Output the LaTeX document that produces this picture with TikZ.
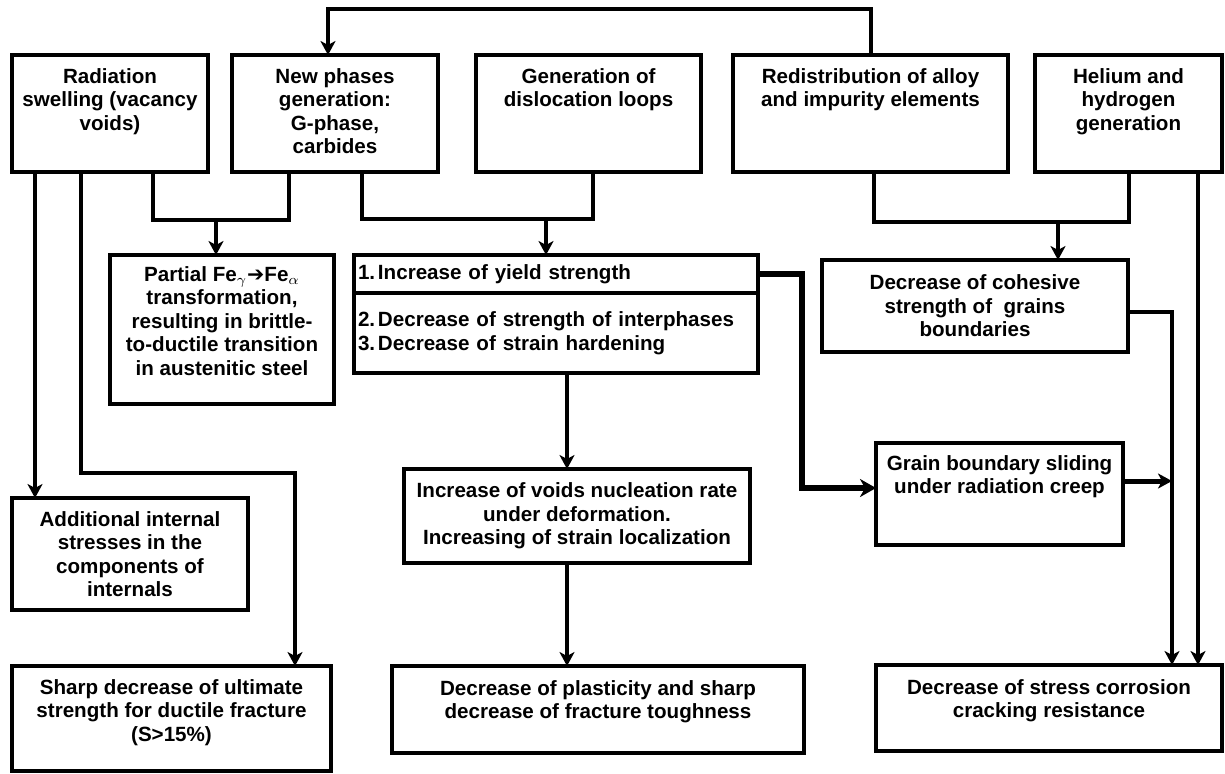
\documentclass[tikz,border=0pt]{standalone}
\usepackage{fontspec}
\setmainfont{Liberation Sans}
\newfontfamily\dejavu{DejaVu Sans}
\usetikzlibrary{arrows.meta,positioning}
\tikzset{
	box/.style={draw, line width=2.2pt, anchor=north west, inner sep=0pt, outer sep=0pt, align=center, font=\bfseries\fontsize{10.3}{11.75}\selectfont},
	txt/.style={inner sep=0pt, align=center, font=\bfseries\fontsize{10.3}{11.75}\selectfont},
	line/.style={line width=2pt},
	arr/.style={line width=2pt, -{Stealth[length=7pt,width=7.5pt,inset=2pt]}},
	list/.style={box, align=left, text width=198pt, inner xsep=2pt}
}

\begin{document}
\begin{tikzpicture}[x=0.5pt, y=-0.5pt]
	\useasboundingbox (0,0) rectangle (1225,773);
	\node[box, minimum width=98pt, minimum height=58.5pt] (rad) at (12,55) {};
	\node[box, minimum width=103pt, minimum height=58.5pt] (phase) at (232,55) {};
	\node[box, minimum width=112.5pt, minimum height=58.5pt] (disl) at (476,55) {};
	\node[box, minimum width=137.5pt, minimum height=58.5pt] (redis) at (733,55) {};
	\node[box, minimum width=93.5pt, minimum height=58.5pt] (hel) at (1035,55) {};
	\node[txt, below=6.5pt of rad.north] (rad-t) {Radiation\\swelling (vacancy\\voids)};
	\node[txt, below=6.5pt of phase.north] (phase-t) {New phases\\generation:\\G-phase,\\carbides};
	\node[txt, below=6.5pt of disl.north] (disl-t) {Generation of\\dislocation loops};
	\node[txt, below=6.5pt of redis.north] (redis-t) {Redistribution of alloy\\and impurity elements};
	\node[txt, below=6.5pt of hel.north] (hel-t) {Helium and\\hydrogen\\generation};

	\node[box, minimum width=112pt, minimum height=74.5pt] (fe) at (110,255) {};
	\node[txt, below=5.5pt of fe.north] (fe-t) {Partial Fe$_\gamma${\dejavu\bfseries ➔}Fe$_\alpha$\\transformation,\\resulting in brittle-\\to-ductile transition\\in austenitic steel};
	\node[list, minimum height=19pt] (yld) at (354,255) {\makebox[10pt][l]{1.}Increase of yield strength};
	\node[list, minimum height=40pt] (yld2) at (354,293) {\makebox[10pt][l]{2.}Decrease of strength of interphases\\\makebox[10pt][l]{3.}Decrease of strain hardening};
	\node[box, minimum width=153pt, minimum height=46pt] (coh) at (822,260) {Decrease of cohesive\\strength of~ grains\\boundaries};

	\node[box, minimum width=123.5pt, minimum height=51pt] (grain) at (876,443) {};
	\node[txt, below=6pt of grain.north] (grain-t) {Grain boundary sliding\\under radiation creep};
	\node[box, minimum width=173pt, minimum height=47pt] (voids) at (404,469) {Increase of voids nucleation rate\\under deformation.\\Increasing of strain localization};
	\node[box, minimum width=118pt, minimum height=56pt] (add) at (12,498) {Additional internal\\stresses in the\\components of\\internals};

	\node[box, minimum width=159.5pt, minimum height=52.5pt] (sharp) at (12,666) {};
	\node[txt, below=6.5pt of sharp.north] (sharp-t) {Sharp decrease of ultimate\\strength for ductile fracture\\(S>15\%)};
	\node[box, minimum width=206pt, minimum height=43.5pt] (plast) at (392,666) {};
	\node[txt, below=7pt of plast.north] (plast-t) {Decrease of plasticity and sharp\\decrease of fracture toughness};
	\node[box, minimum width=173pt, minimum height=43pt] (stress) at (876,665) {};
	\node[txt, below=7pt of stress.north] (stress-t) {Decrease of stress corrosion\\cracking resistance};

	\coordinate (m1) at (216,220);
	\coordinate (m2) at (546,219);
	\coordinate (m3) at (1058,222);
	\coordinate (c1) at (295,473);
	\coordinate (c2) at (802,488);
	\coordinate (c3) at (1172,312);

	\draw[arr] (redis.north) -- ++(0,-46) -| ([xshift=-3.5pt]phase.north);
	\draw[line] ([xshift=21.5pt]rad.south) |- (m1) -| ([xshift=-23pt]phase.south);
	\draw[arr] (m1) -- (m1 |- fe.north);
	\draw[line] ([xshift=13.5pt]phase.south) |- (m2) -| ([xshift=2.25pt]disl.south);
	\draw[arr] (m2) -- (m2 |- yld.north);
	\draw[line] ([xshift=1.75pt]redis.south) |- (m3) -| (hel.south);
	\draw[arr] (m3) -- (m3 |- coh.north);
	\draw[arr] ([xshift=-37.5pt]rad.south) -- ([xshift=-37.5pt]rad.south |- add.north);
	\draw[arr] ([xshift=-14.5pt]rad.south) |- (c1) -- (c1 |- sharp.north);
	\draw[arr] ([xshift=5.5pt]yld2.south) -- ([xshift=5.5pt]yld2.south |- voids.north);
	\draw[arr] ([xshift=-5pt]voids.south) -- ([xshift=-5pt]voids.south |- plast.north);
	\draw[arr, line width=3pt, -{Stealth[length=8pt,width=9pt,inset=2.5pt]}] (yld.east) -| (c2) -- (c2 -| grain.west);
	\draw[arr, line width=2.5pt] ([yshift=6.5pt]grain.east) -- ([yshift=6.5pt]grain.east -| c3);
	\draw[arr] ([yshift=-3pt]coh.east) -| (c3 |- stress.north);
	\draw[arr] ([xshift=34.75pt]hel.south) -- ([xshift=34.75pt]hel.south |- stress.north);
\end{tikzpicture}
\end{document}
